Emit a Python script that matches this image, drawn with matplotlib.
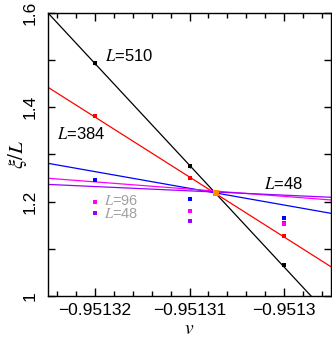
import matplotlib.pyplot as plt
from matplotlib.ticker import MultipleLocator, FuncFormatter

plt.rcParams['font.family'] = ['Liberation Sans', 'DejaVu Sans']
plt.rcParams['mathtext.fontset'] = 'stix'

## Data ##
v_points = [-0.95132, -0.95131, -0.9513]
xi_510 = [1.4933, 1.2756, 1.0658]
xi_384 = [1.3823, 1.2496, 1.1279]
xi_192 = [1.2460, 1.2050, 1.1648]
xi_48 = [1.1767, 1.1590, 1.1550]
xi_96 = [1.2000, 1.1809, 1.1520]
err_510 = [0.004, 0.004, 0.004]

# fit lines, values at the two ends of the v range
v_ends = [-0.951325, -0.951295]
fit_510 = [1.6000, 0.9545]
fit_384 = [1.4425, 1.0620]
fit_192 = [1.2813, 1.1753]
fit_96 = [1.2496, 1.2036]
fit_48 = [1.2366, 1.2093]

crossing_v = [-0.9513072]
crossing_xi = [1.2178]

fig = plt.figure(figsize=(3.32, 3.39), dpi=100)
ax = fig.add_axes([0.1446, 0.1268, 0.8524, 0.8349])

## fit lines ##
lw = 0.9
ax.plot(v_ends, fit_510, '-', color='black', lw=lw)
ax.plot(v_ends, fit_384, '-', color='red', lw=lw)
ax.plot(v_ends, fit_192, '-', color='blue', lw=lw)
ax.plot(v_ends, fit_96, '-', color='#ff00ff', lw=lw)
ax.plot(v_ends, fit_48, '-', color='#9a00ff', lw=lw)

## data points ##
ms = 3
ax.plot(v_points, xi_48, 's', color='#9a00ff', ms=ms, mew=0)
ax.plot(v_points, xi_96, 's', color='#ff00ff', ms=ms, mew=0)
ax.plot(v_points, xi_192, 's', color='blue', ms=ms, mew=0)
ax.plot(v_points, xi_384, 's', color='red', ms=ms, mew=0)
ax.errorbar(v_points, xi_510, yerr=err_510, fmt='s', color='black', ms=3.5, mew=0,
            elinewidth=0.8, capsize=0)
ax.plot(crossing_v, crossing_xi, 's', color='#ff8c00', ms=5, mew=0)

## labels on the curves ##
ax.text(105, 283, r'$L$=510', fontsize=12, transform=None, va='center')
ax.text(57, 205, r'$L$=384', fontsize=12, transform=None, va='center')
ax.text(264, 155, r'$L$=48', fontsize=12, transform=None, va='center')
ax.text(104, 138, r'$L$=96', fontsize=10.5, color='#a0a0a0', transform=None, va='center')
ax.text(104, 125, r'$L$=48', fontsize=10.5, color='#a0a0a0', transform=None, va='center')

## axes ##
ax.set_xlim(v_ends)
ax.set_ylim(1.0, 1.6)
ax.xaxis.set_major_locator(MultipleLocator(1e-5))
ax.xaxis.set_minor_locator(MultipleLocator(2e-6))
ax.yaxis.set_major_locator(MultipleLocator(0.2))
ax.yaxis.set_minor_locator(MultipleLocator(0.1))
ax.xaxis.set_major_formatter(FuncFormatter(lambda x, p: ('%g' % round(x, 6)).replace('-', '\u2212')))
ax.yaxis.set_major_formatter(FuncFormatter(lambda y, p: '%g' % round(y, 2)))
ax.tick_params(which='both', direction='in', top=True, right=True, labelsize=12.5, width=1)
ax.tick_params(axis='x', which='major', length=6, pad=5)
ax.tick_params(axis='x', which='minor', length=3.5)
ax.tick_params(axis='y', which='both', length=5, pad=7.5)
for lab in ax.get_yticklabels():
    lab.set_rotation(90)
    lab.set_va('center')
for s in ax.spines.values():
    s.set_linewidth(1)

ax.set_xlabel(r'$v$', fontsize=14)
ax.set_ylabel(r'$\xi/L$', fontsize=15)
ax.xaxis.set_label_coords(0.5, -0.118)
ax.yaxis.set_label_coords(-0.108, 0.5)
ax.xaxis.label.set_va('center')
ax.yaxis.label.set_va('center')

fig.savefig('out.png', dpi=100)
